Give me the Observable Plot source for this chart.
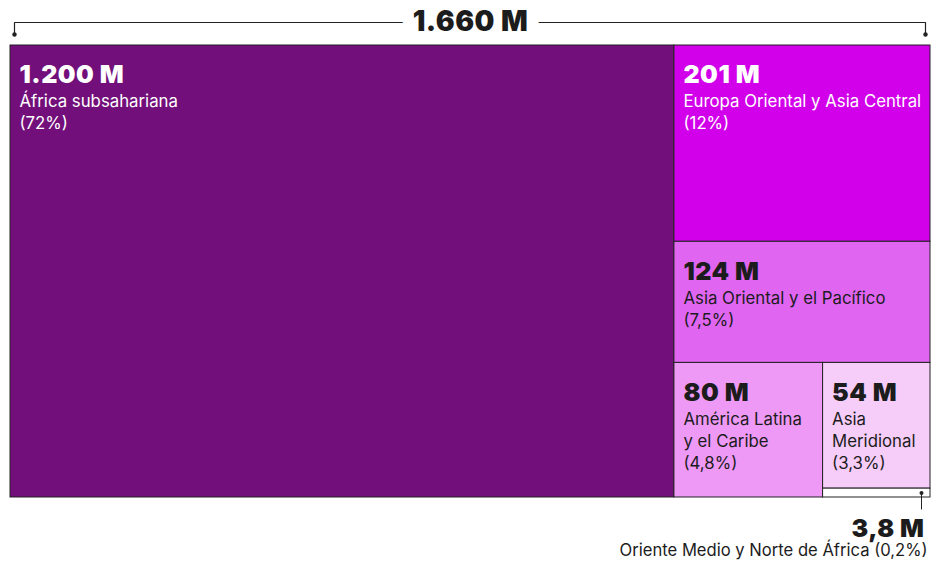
<!DOCTYPE html>
<html><head><meta charset="utf-8">
<script src="https://cdn.jsdelivr.net/npm/d3@7"></script>
<script src="https://cdn.jsdelivr.net/npm/@observablehq/plot@0.6"></script>
<style>
body{margin:0;background:#fff;}
#chart svg{display:block;}
.val text, text.val, .val{letter-spacing:0.5px;}
</style>
</head><body><div id="chart"></div>
<script>
// Data
const regions = ["África subsahariana","Europa Oriental y Asia Central","Asia Oriental y el Pacífico","América Latina y el Caribe","Asia Meridional","Oriente Medio y Norte de África"];
const wrappedNames = ["África subsahariana","Europa Oriental y Asia Central","Asia Oriental y el Pacífico","América Latina\ny el Caribe","Asia\nMeridional","Oriente Medio y Norte de África"];
const values = [1200, 201, 124, 80, 54, 3.8];
const valueLabels = ["1.200 M","201 M","124 M","80 M","54 M","3,8 M"];
const shares = ["72%","12%","7,5%","4,8%","3,3%","0,2%"];
const colors = ["#720f7a","#d200ea","#e066f2","#ee99f6","#f6cdf9","#ffffff"];
const textColors = ["#ffffff","#ffffff","#1c1c1c","#1c1c1c","#1c1c1c","#1c1c1c"];
const totalLabel = "1.660 M";

// Hierarchy (nested slice/dice layout)
const leaf = i => ({i, value: values[i]});
const tree = {children: [leaf(0), {children: [leaf(1), leaf(2), {children: [leaf(3), {children: [leaf(4), leaf(5)]}]}]}]};
const W = 920, H = 452;
const root = d3.treemap().tile(d3.treemapSliceDice).size([W, H]).round(false)(
  d3.hierarchy(tree).sum(d => d.value || 0)
);
const leaves = root.leaves().map(n => ({
  i: n.data.i, x0: n.x0, x1: n.x1, y0: n.y0, y1: n.y1,
  fill: colors[n.data.i], tc: textColors[n.data.i],
  value: valueLabels[n.data.i],
  name: wrappedNames[n.data.i] + (n.data.i === 5 ? " (" + shares[n.data.i] + ")" : "\n(" + shares[n.data.i] + ")")
}));
const inside = leaves.filter(d => d.i !== 5);
const small = leaves.filter(d => d.i === 5);

// bracket above the whole treemap
const bl = root.x0 + 4, br = root.x1 - 5, by = -23, bt = -11;
const bracket = [{x: bl, y: bt}, {x: bl, y: by}, {x: br, y: by}, {x: br, y: bt}];

const chart = Plot.plot({
  width: 939, height: 563,
  marginTop: 0, marginLeft: 0, marginRight: 0, marginBottom: 0,
  x: {domain: [0, W], range: [10, 930], axis: null},
  y: {domain: [0, H], range: [45, 497], axis: null},
  color: {type: "identity"},
  style: {fontFamily: "Inter, 'Noto Sans', sans-serif", background: "#fff"},
  marks: [
    Plot.line(bracket, {x: "x", y: "y", stroke: "#222", strokeWidth: 1.2}),
    Plot.dot([bracket[0], bracket[3]], {x: "x", y: "y", r: 2.2, fill: "#222", stroke: null}),
    Plot.text([totalLabel], {x: (root.x0 + root.x1) / 2, y: by, text: d => d, fontSize: 28, fontWeight: 900, fill: "#1c1c1c", stroke: "white", strokeWidth: 24, lineAnchor: "middle", textAnchor: "middle", className: "val"}),
    Plot.rect(leaves, {x1: "x0", x2: "x1", y1: "y0", y2: "y1", fill: "fill", stroke: "#222", strokeWidth: 1}),
    Plot.text(inside, {x: "x0", y: "y0", dx: 9, dy: 20, text: "value", fill: "tc", fontSize: 25, fontWeight: 900, textAnchor: "start", lineAnchor: "top", className: "val"}),
    Plot.text(inside, {x: "x0", y: "y0", dx: 9, dy: 46, text: "name", fill: "tc", fontSize: 16.8, fontWeight: 400, textAnchor: "start", lineAnchor: "top", lineHeight: 1.32}),
    // annotation for the tiny rectangle
    Plot.link(small, {x1: d => d.x1, x2: d => d.x1, y1: d => (d.y0 + d.y1) / 2, y2: d => d.y1 + 12, dx: -9, stroke: "#222", strokeWidth: 1}),
    Plot.dot(small, {x: d => d.x1, y: d => (d.y0 + d.y1) / 2, dx: -9, r: 2, fill: "#222", stroke: null}),
    Plot.text(small, {x: "x1", y: d => d.y1 + 22, dx: -6, text: "value", fill: "tc", fontSize: 25, fontWeight: 900, textAnchor: "end", lineAnchor: "top", className: "val"}),
    Plot.text(small, {x: "x1", y: d => d.y1 + 47, dx: -3, text: "name", fill: "tc", fontSize: 16.6, fontWeight: 400, textAnchor: "end", lineAnchor: "top"})
  ]
});
document.getElementById("chart").appendChild(chart);
</script>
</body></html>
